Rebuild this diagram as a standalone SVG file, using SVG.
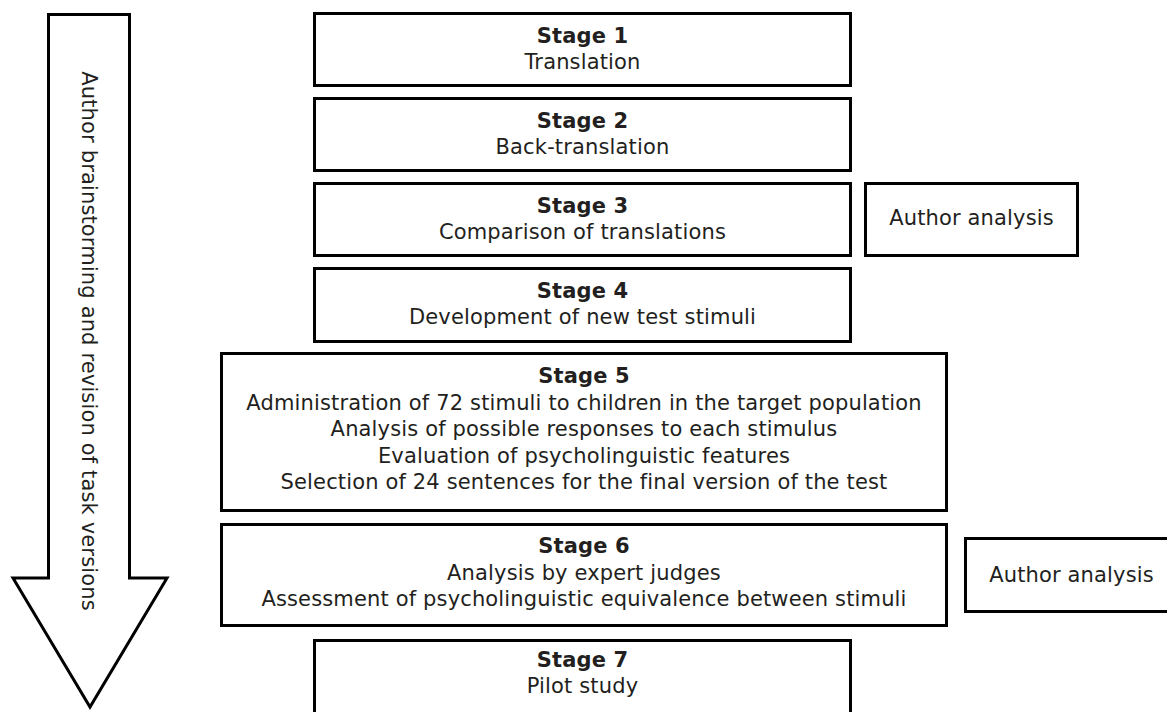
<svg xmlns="http://www.w3.org/2000/svg" width="1167" height="712" viewBox="0 0 1167 712">
<style>
.box{fill:#fff;stroke:#000;stroke-width:3}
text{font-family:"DejaVu Sans","Verdana",sans-serif;font-size:21px;letter-spacing:0.15px;fill:#231f20;text-anchor:middle}
.b{font-weight:bold}
</style>
<rect x="0" y="0" width="1167" height="712" fill="#fff"/>
<g id="arrow">
<polygon class="box" stroke-linejoin="miter" points="48.5,14.5 129.5,14.5 129.5,578 167,578 90,707 13,578 48.5,578"/>
<text transform="translate(82,341) rotate(90)">Author brainstorming and revision of task versions</text>
</g>
<g id="connectors"></g>
<g id="stage1">
<rect class="box" x="314.5" y="13.5" width="536" height="72"/>
<text class="b" x="582.5" y="43">Stage 1</text>
<text x="582.5" y="69">Translation</text>
</g>
<g id="stage2">
<rect class="box" x="314.5" y="98.5" width="536" height="72"/>
<text class="b" x="582.5" y="128">Stage 2</text>
<text x="582.5" y="154">Back-translation</text>
</g>
<g id="stage3">
<rect class="box" x="314.5" y="183.5" width="536" height="72"/>
<text class="b" x="582.5" y="213">Stage 3</text>
<text x="582.5" y="239">Comparison of translations</text>
</g>
<g id="author1">
<rect class="box" x="865.5" y="183.5" width="212" height="72"/>
<text x="971.5" y="225">Author analysis</text>
</g>
<g id="stage4">
<rect class="box" x="314.5" y="268.5" width="536" height="73"/>
<text class="b" x="582.5" y="298">Stage 4</text>
<text x="582.5" y="324">Development of new test stimuli</text>
</g>
<g id="stage5">
<rect class="box" x="221.5" y="353.5" width="725" height="157"/>
<text class="b" x="584" y="383">Stage 5</text>
<text x="584" y="409.5">Administration of 72 stimuli to children in the target population</text>
<text x="584" y="436">Analysis of possible responses to each stimulus</text>
<text x="584" y="462.5">Evaluation of psycholinguistic features</text>
<text x="584" y="489">Selection of 24 sentences for the final version of the test</text>
</g>
<g id="stage6">
<rect class="box" x="221.5" y="524.5" width="725" height="101"/>
<text class="b" x="584" y="553">Stage 6</text>
<text x="584" y="579.5">Analysis by expert judges</text>
<text x="584" y="606">Assessment of psycholinguistic equivalence between stimuli</text>
</g>
<g id="author2">
<rect class="box" x="965.5" y="538.5" width="212" height="73"/>
<text x="1071.5" y="582">Author analysis</text>
</g>
<g id="stage7">
<rect class="box" x="314.5" y="640.5" width="536" height="80"/>
<text class="b" x="582.5" y="667">Stage 7</text>
<text x="582.5" y="693">Pilot study</text>
</g>
</svg>
